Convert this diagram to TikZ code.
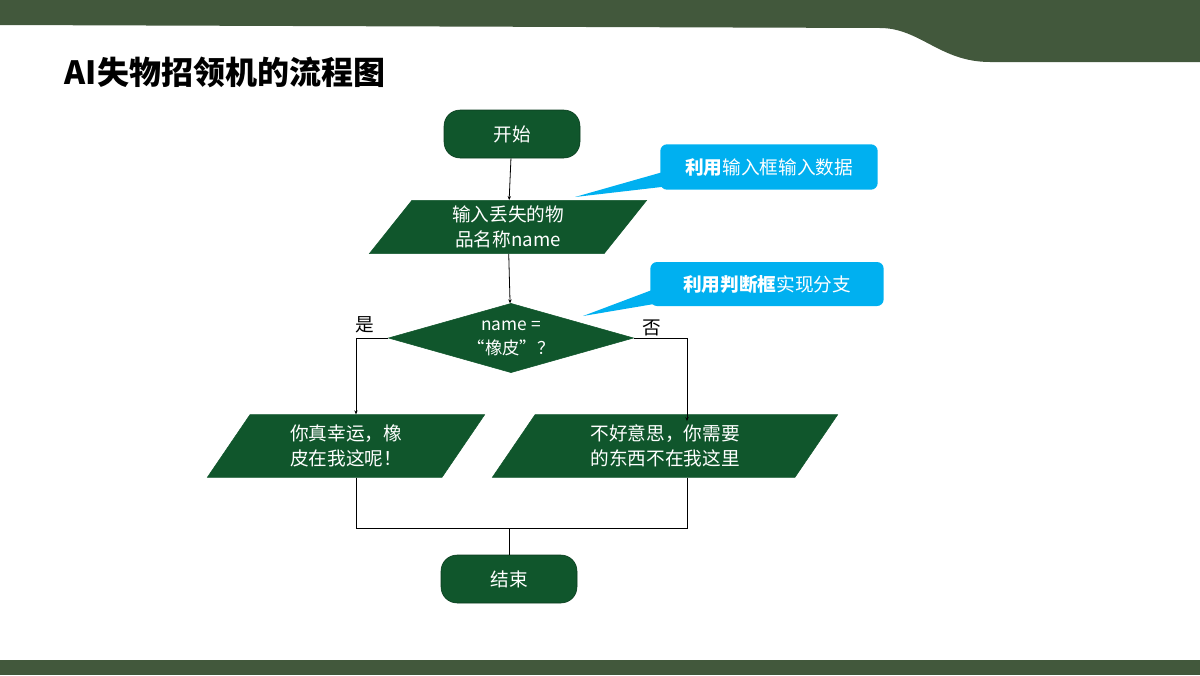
\documentclass[tikz,border=0pt]{standalone}
\usepackage{fontspec}
\setmainfont{Noto Sans CJK SC}
\newfontfamily\cjk{Noto Sans CJK SC}
\usetikzlibrary{shapes.geometric,arrows.meta}
\definecolor{flowgreen}{RGB}{16,86,44}
\definecolor{bandgreen}{RGB}{66,88,60}
\definecolor{tipblue}{RGB}{0,176,240}
\tikzset{
  term/.style={draw=flowgreen!70!black,fill=flowgreen,rounded corners=12pt,minimum width=102pt,minimum height=36pt,text=white,font=\cjk\fontsize{14}{17}\selectfont},
  io/.style={trapezium,trapezium left angle=45,trapezium right angle=135,trapezium stretches body,draw=flowgreen,fill=flowgreen,inner sep=0pt,minimum height=#1,text=white,align=center,font=\cjk\fontsize{14}{19}\selectfont},
  test/.style={diamond,aspect=3.5,draw=flowgreen,fill=flowgreen,inner sep=0pt,minimum width=184pt,minimum height=52pt,text=white,align=center,font=\cjk\fontsize{13}{18}\selectfont},
  tip/.style={fill=tipblue,rounded corners=5pt,text=white,inner sep=0pt,font=\cjk\fontsize{14}{17}\selectfont},
  flow/.style={draw=black,line width=0.6pt,-{Stealth[length=3pt,width=2.5pt]}},
  link/.style={draw=black,line width=0.6pt},
}
\begin{document}
\begin{tikzpicture}[x=0.75pt,y=0.75pt,yscale=-1,xscale=1]
\useasboundingbox (0,0) rectangle (1200,675);
% bands
\fill[bandgreen] (0,0) -- (1200,0) -- (1200,62) -- (990,62) .. controls (940,62) and (920,28) .. (880,28) -- (0,25) -- cycle;
\fill[bandgreen] (0,660) rectangle (1200,675);
\node[anchor=west,font=\cjk\bfseries\fontsize{24}{28}\selectfont] (title) at (60,72) {AI失物招领机的流程图};
% flow nodes
\node[term] (start) at (512,134) {开始};
\node[io=40pt,minimum width=208pt] (input) at (508,227) {输入丢失的物\\品名称name};
\node[test] (check) at (511,338) {name =\\“橡皮”？};
\node[io=47pt,minimum width=208pt] (yes) at (346,446) {你真幸运，橡\\皮在我这呢！};
\node[io=47pt,minimum width=259pt] (no) at (665,446) {不好意思，你需要\\的东西不在我这里};
\node[term] (stop) at (509,579) {结束};
\coordinate (yc) at (356,338);
\coordinate (nc) at (687,338);
\coordinate (yb) at (356,528);
\coordinate (nb) at (687,528);
\coordinate (mid) at (509,528);
% connectors
\draw[flow] (start) -- (input);
\draw[flow] (input) -- (check);
\draw[flow] (check.west) -- (yc) -- (yc |- yes.north);
\draw[flow] (check.east) -- (nc) -- ([yshift=5pt]nc |- no.north);
\draw[link] (yc |- yes.south) -- (yb) -- (nb) -- (nc |- no.south);
\draw[link] (mid) -- (stop);
\node[font=\cjk\fontsize{14}{16}\selectfont] (ylab) at (365,325) {是};
\node[font=\cjk\fontsize{14}{16}\selectfont] (nlab) at (652,328) {否};
% callouts
\node[tip,minimum width=163pt,minimum height=34pt] (tipa) at (769,167) {\bfseries 利用\mdseries 输入框输入数据};
\fill[tipblue] (575,197) -- (670,170) -- (670,186) -- cycle;
\node[tip,minimum width=175pt,minimum height=33pt] (tipb) at (767,284) {\bfseries 利用判断框\mdseries 实现分支};
\fill[tipblue] (583,316) -- (660,287) -- (660,303) -- cycle;
\end{tikzpicture}
\end{document}
